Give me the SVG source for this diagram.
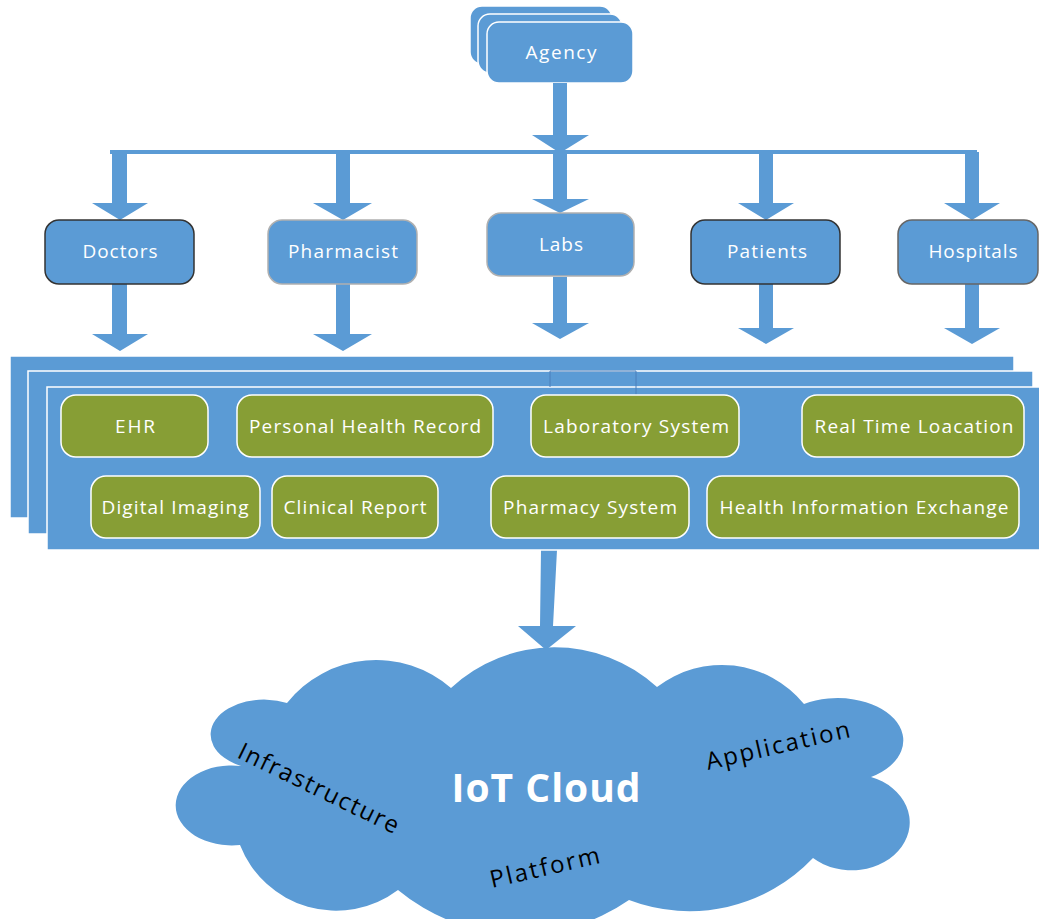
<svg xmlns="http://www.w3.org/2000/svg" width="1039" height="919" viewBox="0 0 1039 919">
<style>
.blue{fill:#5B9BD5}
.node{fill:#5B9BD5;stroke:#ffffff;stroke-width:1.5}
.green{fill:#879E35;stroke:#ffffff;stroke-width:1.5}
.lbl{font-family:"Open Sans","Liberation Sans",sans-serif;font-size:19px;fill:#ffffff;text-anchor:middle}
.side{font-family:"Open Sans","Liberation Sans",sans-serif;font-size:24px;fill:#000000}
</style>
<rect width="1039" height="919" fill="#ffffff"/>

<g id="agency">
<rect x="470" y="6" width="142" height="58" rx="12" class="node"/>
<rect x="478" y="14" width="144" height="59" rx="12" class="node"/>
<rect x="487" y="22" width="146" height="61" rx="12" class="node"/>
<text x="561" y="59" class="lbl" textLength="71" lengthAdjust="spacing">Agency</text>
</g>

<g id="connectors" class="blue">
<polygon points="553,83 567,83 567,135 589,135 560,153 532,135 553,135"/>
<rect x="110" y="150" width="867" height="4"/>
<polygon points="112,152 127,152 127,203 148,203 120,220 92,203 112,203"/>
<polygon points="336,152 350,152 350,203 372,203 343,220 313,203 336,203"/>
<polygon points="553,152 567,152 567,199 589,199 560,213 532,199 553,199"/>
<polygon points="759,152 773,152 773,203 794,203 766,220 738,203 759,203"/>
<polygon points="965,152 979,152 979,203 1000,203 972,220 944,203 965,203"/>
<polygon points="112,284 127,284 127,334 148,334 120,351 92,334 112,334"/>
<polygon points="336,284 350,284 350,334 372,334 343,351 313,334 336,334"/>
<polygon points="553,277 567,277 567,323 589,323 560,339 532,323 553,323"/>
<polygon points="759,284 773,284 773,328 794,328 766,344 738,328 759,328"/>
<polygon points="965,284 979,284 979,328 1000,328 972,344 944,328 965,328"/>
<polygon points="541,550 557,550 553,626 576,626 546,650 518,626 540,626"/>
</g>

<g id="doctors">
<rect x="45" y="220" width="149" height="64" rx="14" fill="#5B9BD5" stroke="#333333" stroke-width="1.5"/>
<text x="120" y="258" class="lbl" textLength="75" lengthAdjust="spacing">Doctors</text>
</g>
<g id="pharmacist">
<rect x="268" y="220" width="149" height="64" rx="14" fill="#5B9BD5" stroke="#b0b0b0" stroke-width="1.5"/>
<text x="343" y="258" class="lbl" textLength="110" lengthAdjust="spacing">Pharmacist</text>
</g>
<g id="labs">
<rect x="487" y="213" width="147" height="63" rx="14" fill="#5B9BD5" stroke="#b0b0b0" stroke-width="1.5"/>
<text x="561" y="251" class="lbl" textLength="44" lengthAdjust="spacing">Labs</text>
</g>
<g id="patients">
<rect x="691" y="220" width="149" height="64" rx="14" fill="#5B9BD5" stroke="#333333" stroke-width="1.5"/>
<text x="767" y="258" class="lbl" textLength="80" lengthAdjust="spacing">Patients</text>
</g>
<g id="hospitals">
<rect x="898" y="220" width="140" height="64" rx="14" fill="#5B9BD5" stroke="#666666" stroke-width="1.5"/>
<text x="973" y="258" class="lbl" textLength="89" lengthAdjust="spacing">Hospitals</text>
</g>

<g id="systems-panel">
<rect x="10" y="356" width="1004" height="162" class="node"/>
<rect x="28" y="371" width="1005" height="163" class="node"/>
<rect x="47" y="387" width="1000" height="163" class="node"/>
<path d="M550,387 V371 H636 V395" fill="none" stroke="#4A7EBB" stroke-width="1"/>
</g>

<g id="ehr">
<rect x="61" y="395" width="147" height="62" rx="15" class="green"/>
<text x="135" y="433" class="lbl" textLength="40" lengthAdjust="spacing">EHR</text>
</g>
<g id="phr">
<rect x="237" y="395" width="256" height="62" rx="15" class="green"/>
<text x="365" y="433" class="lbl" textLength="232" lengthAdjust="spacing">Personal Health Record</text>
</g>
<g id="lab-system">
<rect x="531" y="395" width="208" height="62" rx="15" class="green"/>
<text x="636" y="433" class="lbl" textLength="186" lengthAdjust="spacing">Laboratory System</text>
</g>
<g id="rtl">
<rect x="802" y="395" width="222" height="62" rx="15" class="green"/>
<text x="914" y="433" class="lbl" textLength="199" lengthAdjust="spacing">Real Time Loacation</text>
</g>
<g id="digital-imaging">
<rect x="91" y="476" width="169" height="62" rx="15" class="green"/>
<text x="175" y="514" class="lbl" textLength="147" lengthAdjust="spacing">Digital Imaging</text>
</g>
<g id="clinical-report">
<rect x="272" y="476" width="166" height="62" rx="15" class="green"/>
<text x="355" y="514" class="lbl" textLength="143" lengthAdjust="spacing">Clinical Report</text>
</g>
<g id="pharmacy-system">
<rect x="491" y="476" width="198" height="62" rx="15" class="green"/>
<text x="590" y="514" class="lbl" textLength="174" lengthAdjust="spacing">Pharmacy System</text>
</g>
<g id="hie">
<rect x="707" y="476" width="312" height="62" rx="15" class="green"/>
<text x="864" y="514" class="lbl" textLength="289" lengthAdjust="spacing">Health Information Exchange</text>
</g>

<g id="iot-cloud">
<path class="blue" d="M451,688 A152,152 0 0 1 657,687 A106,106 0 0 1 804,704 A62,40 0 1 1 871,777 A58,48 0 1 1 813,858 A170,170 0 0 1 629,900 A191,191 0 0 1 398,890 A103,103 0 0 1 240,845 A56,40 0 1 1 241,766 A52,34 0 1 1 287,703 A114,114 0 0 1 451,688 Z"/>
<text x="546" y="802" font-family="'Open Sans','Liberation Sans',sans-serif" font-size="39" font-weight="bold" fill="#ffffff" text-anchor="middle" textLength="189" lengthAdjust="spacing">IoT Cloud</text>
<text class="side" transform="translate(236,757) rotate(26)" textLength="176" lengthAdjust="spacing">Infrastructure</text>
<text class="side" transform="translate(708,770) rotate(-13)" textLength="147" lengthAdjust="spacing">Application</text>
<text class="side" transform="translate(492,888) rotate(-13)" textLength="112" lengthAdjust="spacing">Platform</text>
</g>
</svg>
